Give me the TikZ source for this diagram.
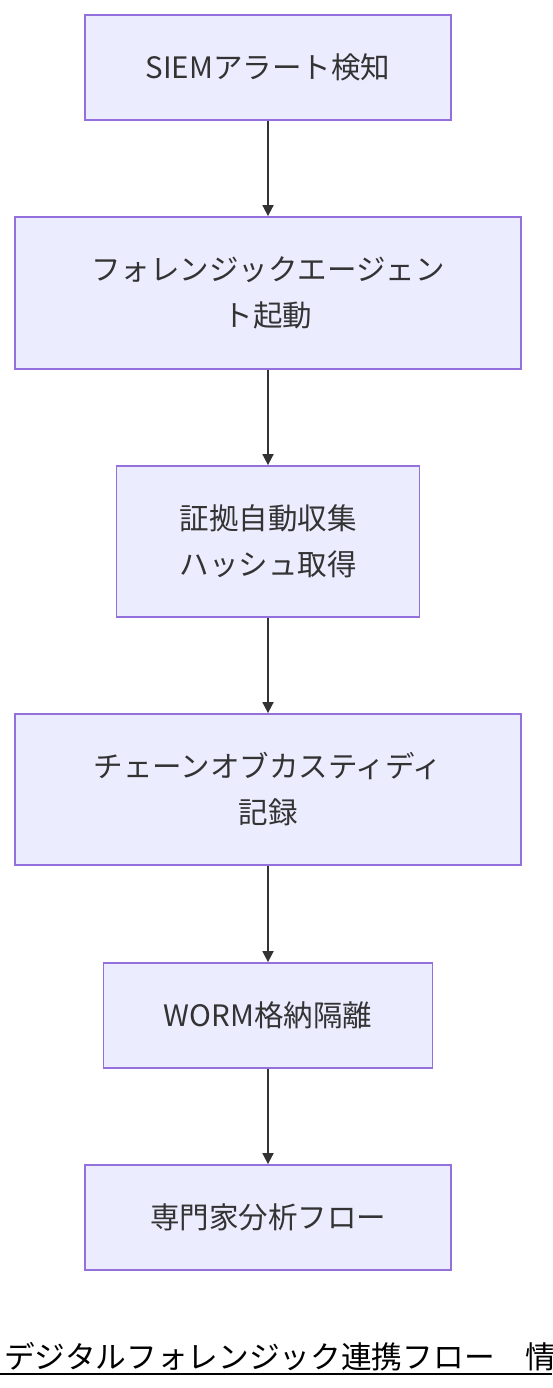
\documentclass[tikz,border=0pt]{standalone}
\usepackage{fontspec}
\setmainfont{Noto Sans CJK JP}
\usetikzlibrary{arrows.meta}
\definecolor{boxfill}{HTML}{ECECFF}
\definecolor{boxline}{HTML}{9370DB}
\definecolor{ink}{HTML}{333333}
\tikzset{
  flowbox/.style={draw=boxline, fill=boxfill, line width=1.8pt, align=center,
    text=ink, inner sep=0pt, font=\fontsize{29.5}{46}\selectfont},
  flowarrow/.style={draw=ink, line width=1.8pt, -{Triangle[length=11pt,width=11pt]}}
}
\begin{document}
\begin{tikzpicture}[x=1pt,y=-1pt]
\useasboundingbox (0,0) rectangle (552,1388);
\node[flowbox, minimum width=366pt, minimum height=105pt] (n1) at (268,67.5) {SIEMアラート検知};
\node[flowbox, minimum width=506pt, minimum height=152pt] (n2) at (268,293) {フォレンジックエージェン\\ト起動};
\node[flowbox, minimum width=303pt, minimum height=151pt] (n3) at (268,541.5) {証拠自動収集\\ハッシュ取得};
\node[flowbox, minimum width=506pt, minimum height=151pt] (n4) at (268,789.5) {チェーンオブカスティディ\\記録};
\node[flowbox, minimum width=329pt, minimum height=105pt] (n5) at (268,1015.5) {WORM格納隔離};
\node[flowbox, minimum width=366pt, minimum height=105pt] (n6) at (268,1217.5) {専門家分析フロー};
\draw[flowarrow] (n1.south) -- (n2.north);
\draw[flowarrow] (n2.south) -- (n3.north);
\draw[flowarrow] (n3.south) -- (n4.north);
\draw[flowarrow] (n4.south) -- (n5.north);
\draw[flowarrow] (n5.south) -- (n6.north);
\begin{scope}
\clip (0,1320) rectangle (552,1388);
\node[anchor=base west, inner sep=0pt, font=\fontsize{30.7}{34}\selectfont] (title) at (4,1368) {デジタルフォレンジック連携フロー　情};
\coordinate (ulA) at (0,1374);
\coordinate (ulB) at (552,1374);
\draw[line width=2pt, black] (ulA) -- (ulB);
\end{scope}
\end{tikzpicture}
\end{document}
